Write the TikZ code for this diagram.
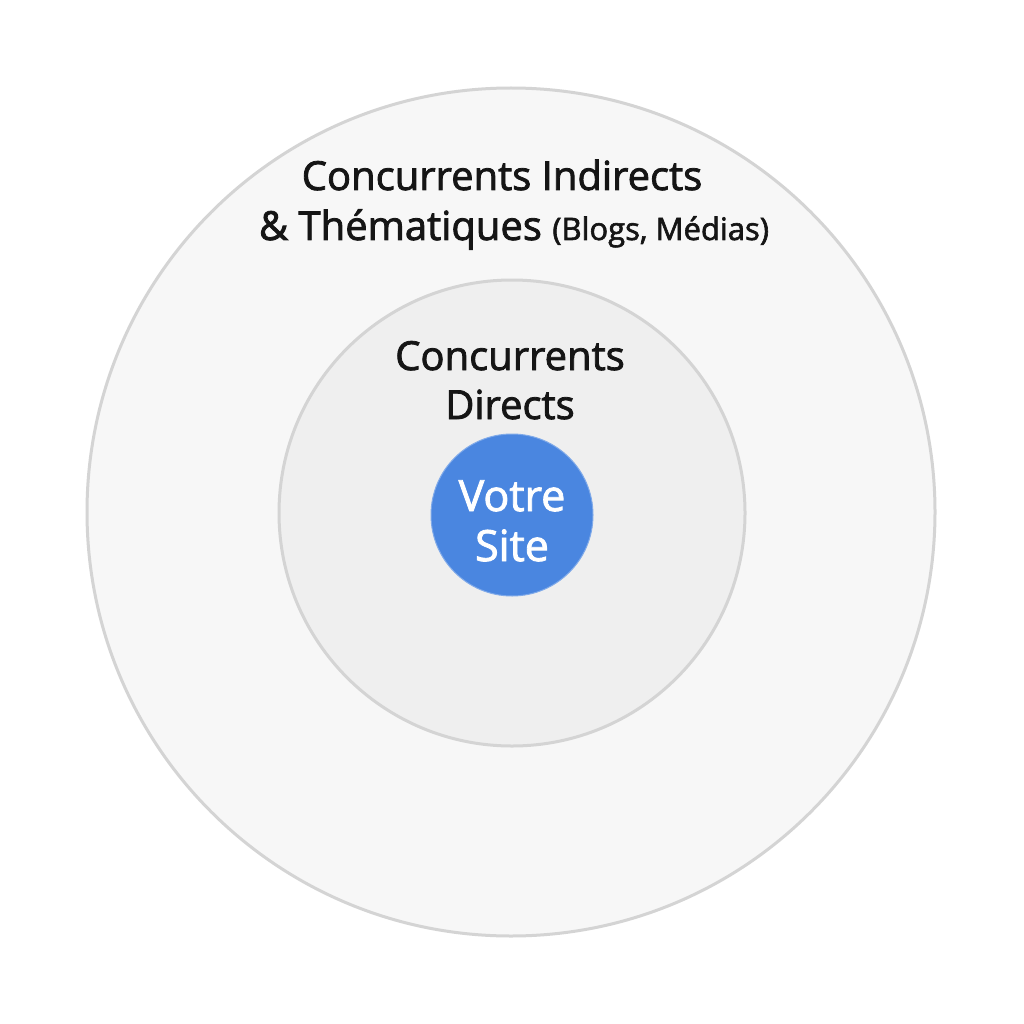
\documentclass[tikz,border=0pt]{standalone}
\usepackage{fontspec}
\setmainfont{Open Sans}
\newfontfamily\medfont[FakeBold=2]{Open Sans}
\definecolor{outerfill}{HTML}{F7F7F7}
\definecolor{midfill}{HTML}{EFEFEF}
\definecolor{ringline}{HTML}{D4D4D4}
\definecolor{siteblue}{HTML}{4A86E0}
\definecolor{txt}{HTML}{151515}
\tikzset{
  ring/.style={circle, draw=ringline, line width=3pt, inner sep=0pt},
  lbl/.style={text=txt, align=center, inner sep=0pt, font=\medfont\fontsize{40}{50}\selectfont},
}
\begin{document}
\begin{tikzpicture}[x=1pt,y=-1pt]
\useasboundingbox[fill=white] (0,0) rectangle (1024,1024);
\node[ring, fill=outerfill, minimum size=848pt] (outer) at (511,512) {};
\node[ring, fill=midfill, minimum size=466pt] (mid) at (512,513) {};
\node[circle, fill=siteblue, draw=siteblue!70!white, line width=1pt, minimum size=162pt, inner sep=0pt] (site) at (512,515) {};
\node[lbl, anchor=base] (t1) at (502,190) {Concurrents Indirects};
\node[lbl, anchor=base] (t2) at (514,240) {\& Thématiques {\fontsize{31}{34}\selectfont (Blogs, Médias)}};
\node[lbl, anchor=base] (m1) at (510,370) {Concurrents};
\node[lbl, anchor=base] (m2) at (510,419) {Directs};
\node[lbl, anchor=base, text=white, font=\medfont\fontsize{43}{50}\selectfont] (s1) at (512,511) {Votre};
\node[lbl, anchor=base, text=white, font=\medfont\fontsize{43}{50}\selectfont] (s2) at (512,561) {Site};
\end{tikzpicture}
\end{document}
